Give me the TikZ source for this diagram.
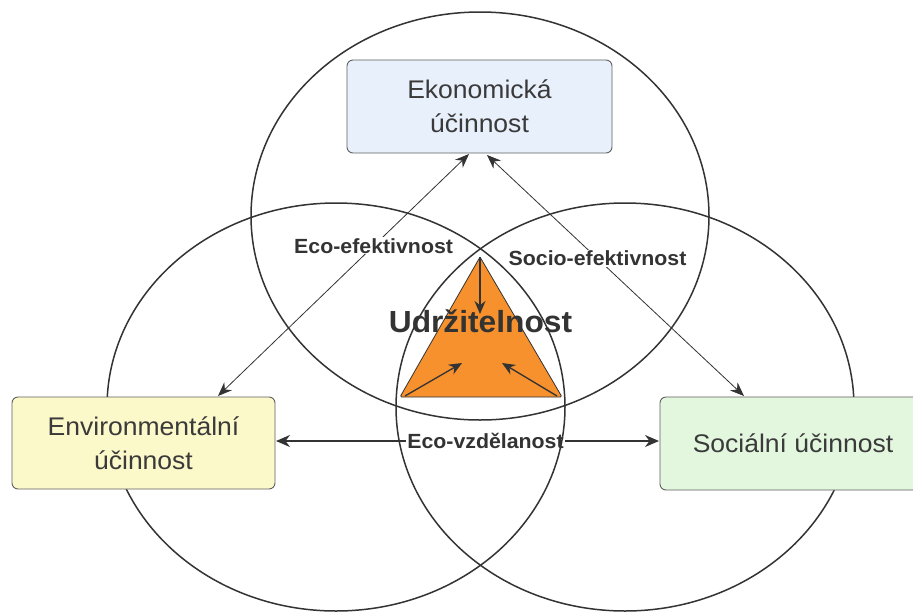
\documentclass[tikz,border=0pt]{standalone}
\usepackage{fontspec}
\setmainfont[FakeStretch=1.04]{Liberation Sans}
\usetikzlibrary{arrows.meta}
\definecolor{ekonfill}{HTML}{E8F0FB}
\definecolor{envfill}{HTML}{FBF8C9}
\definecolor{socfill}{HTML}{E3F6DE}
\definecolor{boxline}{HTML}{606060}
\definecolor{orangefill}{HTML}{F6912D}
\definecolor{inkdark}{HTML}{333333}
\definecolor{txtdark}{HTML}{3A3A3A}
\tikzset{
  bigcircle/.style={draw=inkdark, line width=1.5pt},
  boxnode/.style={draw=boxline, line width=0.9pt, rounded corners=6pt, align=center,
    font=\fontsize{25.5}{34}\selectfont, text=txtdark, inner sep=0pt},
  lbl/.style={font=\bfseries\fontsize{20.5}{23}\selectfont, text=inkdark, fill=white, inner sep=1pt},
  thinarrow/.style={draw=inkdark, line width=0.8pt, {Stealth[length=14pt,width=11pt]}-{Stealth[length=14pt,width=11pt]}},
  thickarrow/.style={draw=inkdark, line width=2pt, {Stealth[length=14pt,width=12pt]}-{Stealth[length=14pt,width=12pt]}},
  innerarrow/.style={draw=inkdark, line width=1.3pt, -{Stealth[length=13pt,width=11pt]}},
  tri/.style={fill=orangefill, draw=inkdark, line width=0.8pt, line join=round, rounded corners=1.5pt}
}
\begin{document}
\begin{tikzpicture}[x=1pt,y=-1pt]
\useasboundingbox (0,0) rectangle (913,611);
\clip (0,0) rectangle (913,611);
\fill[white] (0,0) rectangle (913,611);
% triangle
\coordinate (ta) at (480,257);
\coordinate (tl) at (400,397);
\coordinate (tr) at (562,397);
\path[tri] (ta) -- (tl) -- (tr) -- cycle;
% horizontal connector
\coordinate (h1) at (276,441);
\coordinate (h2) at (659,441);
\draw[thickarrow] (h1) -- node[lbl, pos=0.547] (lv) {Eco-vzdělanost} (h2);
% ellipses
\draw[bigcircle] (480,216) ellipse [x radius=229, y radius=204];
\draw[bigcircle] (336,407) ellipse [x radius=229, y radius=204];
\draw[bigcircle] (625,407) ellipse [x radius=229, y radius=204];
% boxes
\node[boxnode, fill=ekonfill, minimum width=265pt, minimum height=93pt] (ekon) at (479.5,106.5) {Ekonomická\\účinnost};
\node[boxnode, fill=envfill, minimum width=263pt, minimum height=92pt] (env) at (143.5,443) {Environmentální\\účinnost};
\node[boxnode, fill=socfill, minimum width=266pt, minimum height=93pt] (soc) at (793,443.5) {Sociální účinnost};
% diagonal connectors
\coordinate (e1) at (469,154);
\coordinate (e2) at (218,396);
\draw[thinarrow] (e1) -- node[lbl, pos=0.38] (le) {Eco-efektivnost} (e2);
\coordinate (s1) at (487,155);
\coordinate (s2) at (744,396);
\draw[thinarrow] (s1) -- node[lbl, pos=0.43] (ls) {Socio-efektivnost} (s2);
% inner arrows
\coordinate (ia1) at (480,314);
\coordinate (ia2) at (462,363);
\coordinate (ia3) at (502,363);
\coordinate (tl2) at (405,396);
\coordinate (tr2) at (557,396);
\draw[innerarrow] (ta) -- (ia1);
\draw[innerarrow] (tl2) -- (ia2);
\draw[innerarrow] (tr2) -- (ia3);
% central label
\node[font=\bfseries\fontsize{30.5}{33}\selectfont, text=inkdark, inner sep=0pt] (udr) at (480.5,321) {Udržitelnost};
\end{tikzpicture}
\end{document}
